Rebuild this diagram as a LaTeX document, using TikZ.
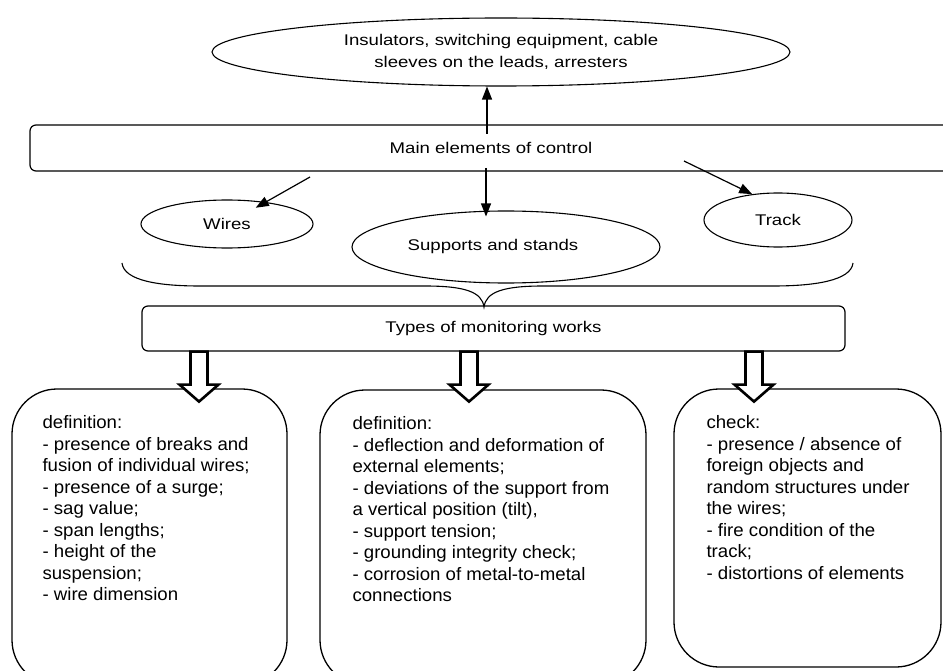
\documentclass[tikz,border=0pt]{standalone}
\usepackage{fontspec}
\setmainfont{Liberation Sans}
\newfontfamily\capfont[FakeStretch=1.2]{Liberation Sans}
\newfontfamily\listfont[FakeStretch=1.035]{Liberation Sans}
\usetikzlibrary{arrows.meta,shapes.geometric}

\tikzset{
  oval/.style={draw, ellipse, line width=1.1pt, inner sep=0pt, align=center,
    font=\capfont\fontsize{15.5}{22}\selectfont},
  bar/.style={draw, rectangle, rounded corners=6pt, line width=1.2pt, inner sep=0pt,
    font=\capfont\fontsize{15.5}{22}\selectfont},
  card/.style={draw, rectangle, rounded corners=45pt, line width=1.3pt, inner sep=0pt},
  list/.style={anchor=north west, inner sep=0pt, align=left,
    font=\listfont\fontsize{18}{21.5}\selectfont},
  hollow/.style={draw, fill=white, line width=2.6pt, line join=miter},
}

\begin{document}
\begin{tikzpicture}[x=1pt,y=-1pt]
\useasboundingbox (0,0) rectangle (943,671);
\clip (0,0) rectangle (943,671);

\node[oval, minimum width=578pt, minimum height=68pt] (parts) at (501,52)
  {Insulators, switching equipment, cable\\sleeves on the leads, arresters};
\node[bar, minimum width=922pt, minimum height=46pt] (main) at (491,148) {Main elements of control};
\node[oval, minimum width=172pt, minimum height=48pt] (wires) at (227,224) {Wires};
\node[oval, minimum width=308pt, minimum height=72pt] (supports) at (506,247)
  {\raisebox{5pt}{Supports and stands}\hspace*{26pt}};
\node[oval, minimum width=148pt, minimum height=54pt] (track) at (778,220) {Track};
\node[bar, minimum width=703pt, minimum height=45pt] (types) at (493.5,328.5) {Types of monitoring works};

\coordinate (up) at (487,134);
\coordinate (dn) at (486,168);
\coordinate (lw) at (310,177);
\coordinate (rt) at (684,161);

\path[-{Triangle[length=13pt,width=10pt]}, line width=1.2pt]
  (up) edge (up |- parts.south)
  (dn) edge [shorten >=-6pt] (dn |- supports.north)
  (lw) edge [shorten >=33pt] (wires.center)
  (rt) edge (track.135);

\draw[line width=1.1pt] (122,263) .. controls (124,281) and (160,286) .. (200,286) -- (425,286)
  .. controls (465,286) and (482,292) .. (484,307) .. controls (486,292) and (503,286) .. (543,286)
  -- (773,286) .. controls (813,286) and (851,281) .. (853,263);

\node[card, minimum width=275pt, minimum height=296pt] (card1) at (149.5,537) {};
\node[card, minimum width=326pt, minimum height=295pt] (card2) at (483,537.5) {};
\node[card, minimum width=267pt, minimum height=278pt] (card3) at (807.5,528) {};

\foreach \x in {199,469,754}
  \draw[hollow] (types.south -| \x,0) ++(-8.5,0) -- ++(0,33) -- ++(-11,0) -- ++(19.5,17)
    -- ++(19.5,-17) -- ++(-11,0) -- ++(0,-33) -- cycle;

\node[list] (def1) at ([shift={(31,27)}]card1.north west)
  {definition:\\- presence of breaks and\\fusion of individual wires;\\- presence of a surge;\\- sag value;\\- span lengths;\\- height of the\\suspension;\\- wire dimension};
\node[list] (def2) at ([shift={(33,27)}]card2.north west)
  {definition:\\- deflection and deformation of\\external elements;\\- deviations of the support from\\a vertical position (tilt),\\- support tension;\\- grounding integrity check;\\- corrosion of metal-to-metal\\connections};
\node[list] (chk3) at ([shift={(33,27)}]card3.north west)
  {check:\\- presence / absence of\\foreign objects and\\random structures under\\the wires;\\- fire condition of the\\track;\\- distortions of elements};
\end{tikzpicture}
\end{document}
